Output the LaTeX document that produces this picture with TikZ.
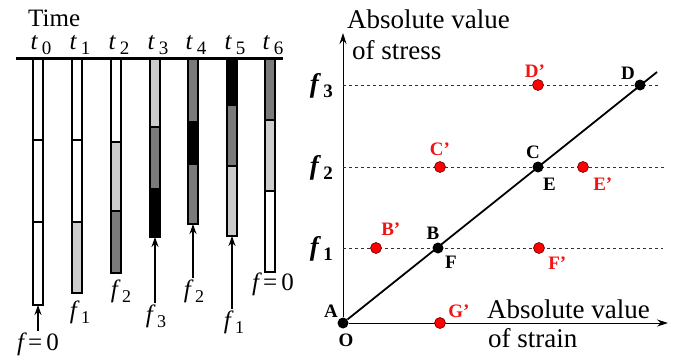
\documentclass[tikz,border=0pt]{standalone}
\usepackage{fontspec}
\setmainfont{Liberation Serif}
\usetikzlibrary{arrows.meta,positioning}

\definecolor{lgray}{gray}{0.8}
\definecolor{dgray}{gray}{0.48}
\definecolor{ptred}{RGB}{240,20,20}
\newcommand\idx[2][19]{\,\raisebox{-5pt}{\fontsize{#1}{#1}\selectfont\upshape #2}}

\tikzset{
  barseg/.style={draw=black, line width=1.6pt},
  arr/.style={-{Stealth[length=10pt,width=7pt]}, line width=1.3pt},
  tlbl/.style={font=\fontsize{25}{25}\selectfont\itshape, anchor=base, inner sep=0pt},
  ftxt/.style={font=\fontsize{25}{25}\selectfont, anchor=base, inner sep=1pt},
  axtxt/.style={font=\fontsize{27}{27}\selectfont, anchor=base west, inner sep=0pt},
  axis/.style={-{Stealth[length=11pt,width=7pt]}, line width=1pt},
  level/.style={dash pattern=on 3pt off 3pt, line width=0.7pt, black!80},
  bdot/.style={circle, fill=black, inner sep=0pt, minimum size=11pt},
  rdot/.style={circle, fill=red, draw=red!40!black, line width=0.6pt, inner sep=0pt, minimum size=11pt},
  blbl/.style={font=\fontsize{19}{19}\selectfont\bfseries, inner sep=1pt},
  rlbl/.style={blbl, text=ptred},
}

\begin{document}
\begin{tikzpicture}[x=1pt, y=-1pt]
  \useasboundingbox (0,0) rectangle (676,356);

  % time bars
  \node[ftxt, anchor=base west, inner sep=0pt] (time) at (28,26) {Time};
  \foreach \i/\x/\ca/\ya/\cb/\yb/\cc/\yc in {
      0/38/white/140/white/222/white/305,
      1/77/white/140/white/222/lgray/293,
      2/116/white/142/lgray/211/dgray/273,
      3/155/lgray/127/dgray/189/black/237,
      4/193/dgray/122/black/164/dgray/224,
      5/232/black/105/dgray/166/lgray/236,
      6/270/dgray/120/lgray/191/white/272}
  {
    \filldraw[barseg, fill=\ca] (\x-5,58) rectangle (\x+5,\ya);
    \filldraw[barseg, fill=\cb] (\x-5,\ya) rectangle (\x+5,\yb);
    \filldraw[barseg, fill=\cc] (\x-5,\yb) rectangle (\x+5,\yc);
    \coordinate (bot\i) at (\x,\yc);
    \node[tlbl] (t\i) at (\x+3,49) {t\idx{\i}};
  }
  \draw[line width=3pt] (16,58) -- (283,58);

  % loads under the bars
  \node[ftxt] (lf0) at (38,350) {\itshape f\upshape\,=\,0};
  \node[ftxt] (lf1) at (80,318) {\itshape f\idx[18]{1}};
  \node[ftxt] (lf2) at (121,297) {\itshape f\idx[18]{2}};
  \node[ftxt] (lf3) at (156,322) {\itshape f\idx[18]{3}};
  \node[ftxt] (lf4) at (194,297) {\itshape f\idx[18]{2}};
  \node[ftxt] (lf5) at (234,328) {\itshape f\idx[18]{1}};
  \node[ftxt] (lf6) at (273,290) {\itshape f\upshape\,=\,0};
  \draw[arr] (lf0.north) -- (bot0);
  \draw[arr] (lf3.north -| bot3) -- (bot3);
  \draw[arr] (lf4.north -| bot4) -- (bot4);
  \draw[arr] (lf5.north -| bot5) -- (bot5);

  % stress-strain axes
  \node[bdot, label={[blbl]above left:A}, label={[blbl, xshift=3pt, yshift=-4pt]below:O}] (O) at (343,323) {};
  \coordinate (yend) at (343,33);
  \coordinate (xend) at (668,323);
  \draw[axis] (O) -- (yend);
  \draw[axis] (O) -- (xend);
  \node[axtxt] (ylab1) at (347,28) {Absolute value};
  \node[axtxt] (ylab2) at (352,59) {of stress};
  \node[axtxt] (xlab1) at (487,318) {Absolute value};
  \node[axtxt] (xlab2) at (488,347) {of strain};

  % stress levels
  \foreach \n/\y/\r in {1/248/663, 2/167/665, 3/85/658} {
    \coordinate (lv\n) at (343,\y);
    \coordinate (rv\n) at (\r,\y);
    \draw[level] (lv\n) -- (rv\n);
    \node[ftxt, anchor=base east] (fs\n) at (334,\y+7) {\fontsize{27}{27}\selectfont\bfseries\itshape f\idx[19]{\bfseries\n}};
  }

  % linear path
  \coordinate (lend) at (657,72);
  \draw[line width=1.8pt] (O) -- (lend);
  \node[bdot, label={[blbl, xshift=-5pt, yshift=2pt]above:B}, label={[blbl, xshift=2pt, yshift=-3pt]below right:F}] (B) at (438,248) {};
  \node[bdot, label={[blbl, xshift=-5pt, yshift=1pt]above:C}, label={[blbl, yshift=-6pt]below right:E}] (C) at (538,167) {};
  \node[bdot, label={[blbl]above left:D}] (D) at (640,85) {};

  % off-path states
  \node[rdot, label={[rlbl, yshift=7pt]above right:B'}] (Bp) at (376,248) {};
  \node[rdot, label={[rlbl, yshift=4pt]above:C'}] (Cp) at (440,167) {};
  \node[rdot, label={[rlbl, xshift=-3pt]above:D'}] (Dp) at (538,85) {};
  \node[rdot, label={[rlbl, xshift=5pt, yshift=-6pt]below right:E'}] (Ep) at (583,167) {};
  \node[rdot, label={[rlbl, xshift=4pt, yshift=-4pt]below right:F'}] (Fp) at (539,248) {};
  \node[rdot, label={[rlbl, xshift=3pt]above right:G'}] (Gp) at (440,323) {};
\end{tikzpicture}
\end{document}
